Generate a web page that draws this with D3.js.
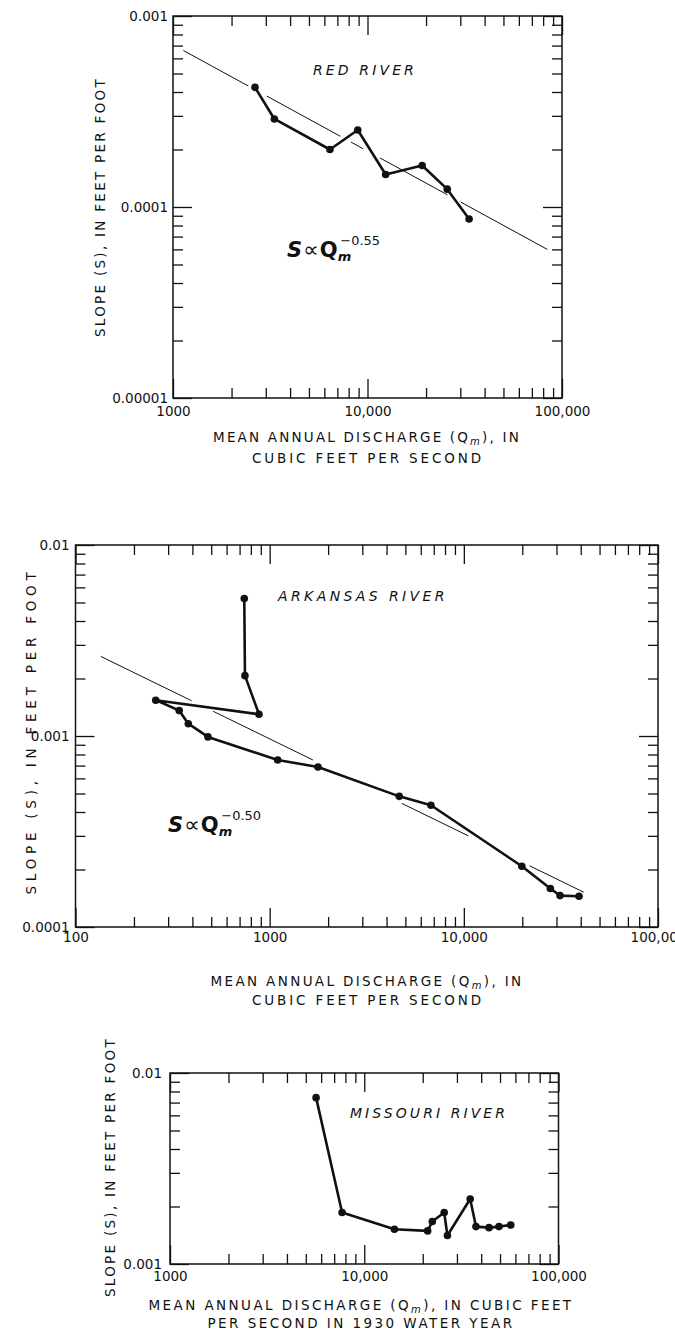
<!DOCTYPE html>
<html>
<head>
<meta charset="utf-8">
<script src="https://cdn.jsdelivr.net/npm/d3@7"></script>
<style>
  body { margin: 0; background: #fff; }
  svg { display: block; }
  text { font-family: "DejaVu Sans", sans-serif; fill: #111; }
</style>
</head>
<body>
<svg id="chart" width="675" height="1333"></svg>
<script>
// Red River
const redQ = [2640, 3320, 6410, 8910, 12400, 19100, 25700, 33300];
const redS = [4.23e-4, 2.89e-4, 2.00e-4, 2.53e-4, 1.48e-4, 1.65e-4, 1.24e-4, 8.65e-5];
const redFitQ = [1130, 84000];
const redFitS = [6.6e-4, 6.0e-5];
const redXTicks = [1000, 10000, 100000];
const redXLabels = ["1000", "10,000", "100,000"];
const redYTicks = [0.001, 0.0001, 0.00001];
const redYLabels = ["0.001", "0.0001", "0.00001"];

// Arkansas River
const arkQ = [740, 746, 881, 259, 342, 381, 481, 1100, 1774, 4650, 6770, 19900, 27900, 31300, 39200];
const arkS = [5.24e-3, 2.07e-3, 1.30e-3, 1.54e-3, 1.36e-3, 1.16e-3, 9.89e-4, 7.49e-4, 6.88e-4,
              4.83e-4, 4.34e-4, 2.08e-4, 1.59e-4, 1.46e-4, 1.45e-4];
const arkFitQ = [135, 41500];
const arkFitS = [2.61e-3, 1.52e-4];
const arkXTicks = [100, 1000, 10000, 100000];
const arkXLabels = ["100", "1000", "10,000", "100,000"];
const arkYTicks = [0.01, 0.001, 0.0001];
const arkYLabels = ["0.01", "0.001", "0.0001"];

// Missouri River
const misQ = [5650, 7690, 14300, 21200, 22400, 25800, 26800, 35100, 37600, 43900, 49400, 56800];
const misS = [7.43e-3, 1.86e-3, 1.52e-3, 1.49e-3, 1.67e-3, 1.86e-3, 1.41e-3, 2.19e-3, 1.57e-3,
              1.55e-3, 1.57e-3, 1.60e-3];
const misXTicks = [1000, 10000, 100000];
const misXLabels = ["1000", "10,000", "100,000"];
const misYTicks = [0.01, 0.001];
const misYLabels = ["0.01", "0.001"];

const yTitle = "SLOPE (S), IN FEET PER FOOT";

const svg = d3.select('#chart');
svg.append('rect').attr('width', 675).attr('height', 1333).attr('fill', '#fff');

// spread letters so a text line covers the given width
function fitWidth(sel, target) {
    sel.each(function () {
        const n = this.getNumberOfChars();
        const w = this.getComputedTextLength();
        d3.select(this).attr('letter-spacing', ((target - w) / n).toFixed(2));
    });
}

function drawPanel(p) {
    const x = d3.scaleLog().domain(p.xDomain).range([p.x0, p.x1]);
    const y = d3.scaleLog().domain(p.yDomain).range([p.y1, p.y0]);
    const g = svg.append('g');

    const isMajor = v => Math.abs(Math.log10(v) - Math.round(Math.log10(v))) < 1e-9;
    const xMinor = x.ticks().filter(v => !isMajor(v));
    const yMinor = y.ticks().filter(v => !isMajor(v));

    const axes = [
        [d3.axisBottom(x), `translate(0,${p.y1})`, xMinor, p.xTicks],
        [d3.axisTop(x), `translate(0,${p.y0})`, xMinor, p.xTicks],
        [d3.axisLeft(y), `translate(${p.x0},0)`, yMinor, p.yTicks],
        [d3.axisRight(y), `translate(${p.x1},0)`, yMinor, p.yTicks]
    ];
    axes.forEach(([ax, tr, minor, major]) => {
        g.append('g').attr('transform', tr)
            .call(ax.tickValues(minor).tickSize(-10).tickFormat(''))
            .call(s => s.select('.domain').remove());
        g.append('g').attr('transform', tr)
            .call(ax.tickValues(major).tickSize(-19).tickFormat(''))
            .call(s => s.select('.domain').remove());
    });
    g.selectAll('.tick line').attr('stroke', '#111').attr('stroke-width', 1.3);

    // tick labels
    const xl = g.append('g').attr('transform', `translate(0,${p.y1})`)
        .call(d3.axisBottom(x).tickValues(p.xTicks).tickSize(0).tickPadding(p.xPad)
            .tickFormat((d, i) => p.xLabels[i]));
    const yl = g.append('g').attr('transform', `translate(${p.x0},0)`)
        .call(d3.axisLeft(y).tickValues(p.yTicks).tickSize(0).tickPadding(p.yPad)
            .tickFormat((d, i) => p.yLabels[i]));
    [xl, yl].forEach(s => {
        s.select('.domain').remove();
        s.attr('font-family', null).attr('font-size', null);
        s.selectAll('text').attr('font-size', 13.5).attr('fill', '#111');
    });

    // frame
    g.append('rect')
        .attr('x', p.x0).attr('y', p.y0)
        .attr('width', p.x1 - p.x0).attr('height', p.y1 - p.y0)
        .attr('fill', 'none').attr('stroke', '#111').attr('stroke-width', 1.5);

    // fitted power law
    if (p.fitQ) {
        g.append('path')
            .datum(d3.zip(p.fitQ, p.fitS))
            .attr('d', d3.line().x(d => x(d[0])).y(d => y(d[1])))
            .attr('fill', 'none').attr('stroke', '#111').attr('stroke-width', 1)
            .attr('stroke-dasharray', p.dash);
    }

    // observed profile
    const pts = d3.zip(p.q, p.s);
    g.append('path')
        .datum(pts)
        .attr('d', d3.line().x(d => x(d[0])).y(d => y(d[1])))
        .attr('fill', 'none').attr('stroke', '#111').attr('stroke-width', 2.6)
        .attr('stroke-linejoin', 'round');
    g.selectAll('.dot').data(pts).enter().append('circle')
        .attr('cx', d => x(d[0])).attr('cy', d => y(d[1])).attr('r', 3.8).attr('fill', '#111');

    // river name
    g.append('text')
        .attr('x', p.title[1]).attr('y', p.title[2])
        .attr('text-anchor', 'middle').attr('font-size', 14).attr('font-style', 'italic')
        .text(p.title[0])
        .call(fitWidth, p.title[3]);

    // axis titles
    const yt = g.append('text')
        .attr('transform', `translate(${p.yTitle[0]},${p.yTitle[1]}) rotate(-90)`)
        .attr('text-anchor', 'middle').attr('dy', '0.36em').attr('font-size', 13.5)
        .text(yTitle);
    fitWidth(yt, p.yTitle[2]);

    p.xTitle.forEach(line => {
        const t = g.append('text').attr('x', line[1]).attr('y', line[2])
            .attr('text-anchor', 'middle').attr('font-size', 13.5);
        const parts = line[0].split('|');
        t.append('tspan').text(parts[0]);
        if (parts.length > 1) {
            t.append('tspan').attr('font-size', 10).attr('font-style', 'italic').attr('dy', 3).text(parts[1]);
            t.append('tspan').attr('dy', -3).text(parts[2]);
        }
        fitWidth(t, line[3]);
    });

    // S ∝ Qm^exp
    if (p.formula) {
        const [fx, fy, ex] = p.formula;
        const f = g.append('text').attr('x', fx).attr('y', fy).attr('font-weight', 'bold')
            .attr('font-family', '"Liberation Sans", Arial, sans-serif');
        f.append('tspan').attr('font-size', 21).attr('font-style', 'italic').text('S');
        f.append('tspan').attr('font-size', 22).attr('font-weight', 'normal').attr('dx', 1)
            .attr('font-family', '"DejaVu Sans", sans-serif').text('\u221D');
        f.append('tspan').attr('font-size', 21).attr('dx', 1).text('Q');
        f.append('tspan').attr('font-size', 13).attr('font-style', 'italic').attr('dy', 4).text('m');
        f.append('tspan').attr('font-size', 13).attr('font-weight', 'normal')
            .attr('dx', -11).attr('dy', -16).text(ex);
    }
}

const line1 = "MEAN ANNUAL DISCHARGE (Q|m|), IN";

drawPanel({
    x0: 173, x1: 562, y0: 16, y1: 398,
    xDomain: [1000, 100000], yDomain: [1e-5, 1e-3],
    xTicks: redXTicks, xLabels: redXLabels, yTicks: redYTicks, yLabels: redYLabels,
    xPad: 8, yPad: 5,
    q: redQ, s: redS, fitQ: redFitQ, fitS: redFitS,
    dash: "74,21,84,12,14,19,77,15,120",
    title: ["RED RIVER", 365, 75, 104],
    yTitle: [100, 207, 260],
    xTitle: [[line1, 367, 442, 308], ["CUBIC FEET PER SECOND", 368, 463, 232]],
    formula: [287, 257, "\u22120.55"]
});

drawPanel({
    x0: 75.5, x1: 658, y0: 545, y1: 927,
    xDomain: [100, 100000], yDomain: [1e-4, 1e-2],
    xTicks: arkXTicks, xLabels: arkXLabels, yTicks: arkYTicks, yLabels: arkYLabels,
    xPad: 5, yPad: 6,
    q: arkQ, s: arkS, fitQ: arkFitQ, fitS: arkFitS,
    dash: "101,24,111,99,74,68,80",
    title: ["ARKANSAS RIVER", 363, 601, 170],
    yTitle: [31, 731, 327],
    xTitle: [[line1, 367, 986, 313], ["CUBIC FEET PER SECOND", 368, 1005, 232]],
    formula: [168, 832, "\u22120.50"]
});

drawPanel({
    x0: 170, x1: 558.5, y0: 1073, y1: 1264,
    xDomain: [1000, 100000], yDomain: [1e-3, 1e-2],
    xTicks: misXTicks, xLabels: misXLabels, yTicks: misYTicks, yLabels: misYLabels,
    xPad: 7, yPad: 8,
    q: misQ, s: misS,
    title: ["MISSOURI RIVER", 429, 1118, 158],
    yTitle: [110, 1167, 260],
    xTitle: [["MEAN ANNUAL DISCHARGE (Q|m|), IN CUBIC FEET", 361, 1310, 425],
             ["PER SECOND IN 1930 WATER YEAR", 361, 1328, 307]]
});
</script>
</body>
</html>
